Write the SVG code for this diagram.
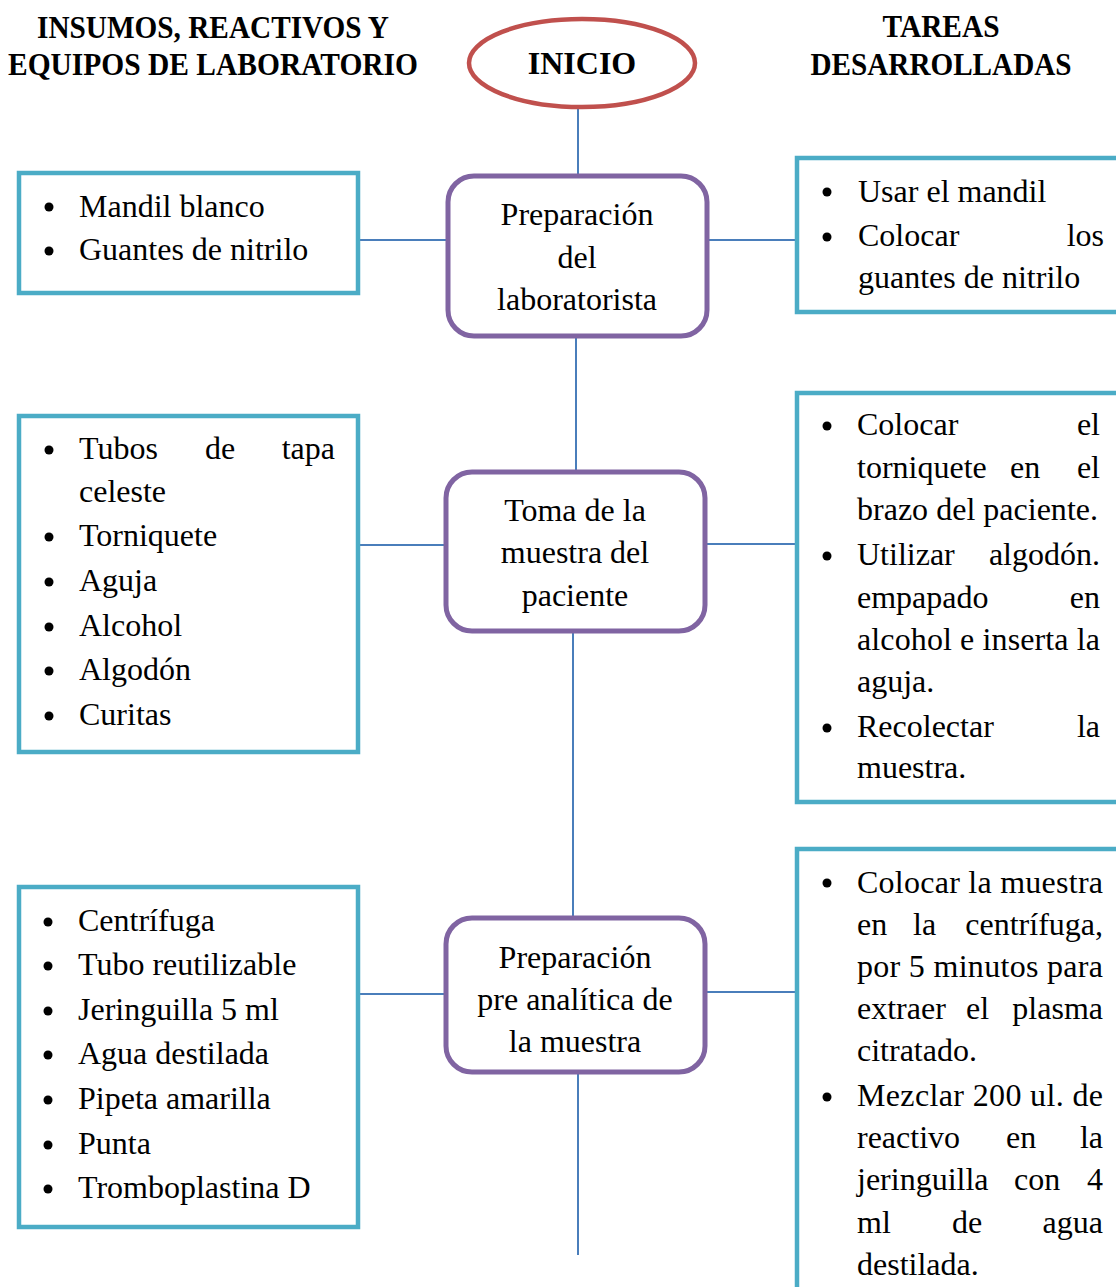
<svg xmlns="http://www.w3.org/2000/svg" width="1116" height="1287" viewBox="0 0 1116 1287">
  <style>
    .hdr { font-family: "Liberation Serif", "Times New Roman", serif; font-weight: bold; font-size: 32px; fill: #000; }
    .txt { font-family: "Liberation Serif", "Times New Roman", serif; font-size: 32px; fill: #000; }
    .mid { text-anchor: middle; }
    .end { text-anchor: end; }
    .step { fill: #fff; stroke: #8064a2; stroke-width: 5; }
    .list { fill: #fff; stroke: #4bacc6; stroke-width: 4.5; }
    .link { stroke: #4a7ebb; stroke-width: 2; fill: none; }
    .dot { fill: #000; }
  </style>

  <!-- column headings -->
  <g id="heading-left">
    <text class="hdr mid" x="213" y="38" textLength="352" lengthAdjust="spacingAndGlyphs">INSUMOS, REACTIVOS Y</text>
    <text class="hdr mid" x="213" y="75" textLength="410" lengthAdjust="spacingAndGlyphs">EQUIPOS DE LABORATORIO</text>
  </g>
  <g id="heading-right">
    <text class="hdr mid" x="941" y="37" textLength="117" lengthAdjust="spacingAndGlyphs">TAREAS</text>
    <text class="hdr mid" x="941" y="75" textLength="261" lengthAdjust="spacingAndGlyphs">DESARROLLADAS</text>
  </g>

  <!-- connectors -->
  <g id="connectors">
    <line class="link" x1="578" y1="108" x2="578" y2="176"/>
    <line class="link" x1="576" y1="336" x2="576" y2="472"/>
    <line class="link" x1="573" y1="632" x2="573" y2="918"/>
    <line class="link" x1="578" y1="1072" x2="578" y2="1255"/>
    <line class="link" x1="358" y1="240" x2="448" y2="240"/>
    <line class="link" x1="707" y1="240" x2="797" y2="240"/>
    <line class="link" x1="358" y1="545" x2="446" y2="545"/>
    <line class="link" x1="705" y1="544" x2="797" y2="544"/>
    <line class="link" x1="358" y1="994" x2="446" y2="994"/>
    <line class="link" x1="699" y1="992" x2="797" y2="992"/>
  </g>

  <!-- start -->
  <g id="inicio">
    <ellipse cx="582" cy="63" rx="113" ry="44" fill="#fff" stroke="#c0504d" stroke-width="4.5"/>
    <text class="hdr mid" x="582" y="74">INICIO</text>
  </g>

  <!-- step 1 -->
  <g id="step-preparacion-laboratorista">
    <rect class="step" x="448" y="176" width="259" height="160" rx="26"/>
    <text class="txt mid" x="577" y="225">Preparación</text>
    <text class="txt mid" x="577" y="268">del</text>
    <text class="txt mid" x="577" y="310">laboratorista</text>
  </g>
  <g id="insumos-1">
    <rect class="list" x="19" y="173" width="339" height="120"/>
    <circle class="dot" cx="49" cy="207" r="4.5"/>
    <text class="txt" x="79" y="217">Mandil blanco</text>
    <circle class="dot" cx="49" cy="251" r="4.5"/>
    <text class="txt" x="79" y="260">Guantes de nitrilo</text>
  </g>
  <g id="tareas-1">
    <rect class="list" x="797" y="158" width="330" height="154"/>
    <circle class="dot" cx="827" cy="192" r="4.5"/>
    <text class="txt" x="858" y="202">Usar el mandil</text>
    <circle class="dot" cx="827" cy="237" r="4.5"/>
    <text class="txt" x="858" y="246">Colocar</text>
    <text class="txt end" x="1104" y="246">los</text>
    <text class="txt" x="858" y="288">guantes de nitrilo</text>
  </g>

  <!-- step 2 -->
  <g id="step-toma-muestra">
    <rect class="step" x="446" y="472" width="259" height="159" rx="26"/>
    <text class="txt mid" x="575" y="521">Toma de la</text>
    <text class="txt mid" x="575" y="563">muestra del</text>
    <text class="txt mid" x="575" y="606">paciente</text>
  </g>
  <g id="insumos-2">
    <rect class="list" x="19" y="416" width="339" height="336"/>
    <circle class="dot" cx="49" cy="450" r="4.5"/>
    <text class="txt" x="79" y="459">Tubos</text>
    <text class="txt" x="205" y="459">de</text>
    <text class="txt end" x="335" y="459">tapa</text>
    <text class="txt" x="79" y="502">celeste</text>
    <circle class="dot" cx="49" cy="537" r="4.5"/>
    <text class="txt" x="79" y="546">Torniquete</text>
    <circle class="dot" cx="49" cy="582" r="4.5"/>
    <text class="txt" x="79" y="591">Aguja</text>
    <circle class="dot" cx="49" cy="627" r="4.5"/>
    <text class="txt" x="79" y="636">Alcohol</text>
    <circle class="dot" cx="49" cy="671" r="4.5"/>
    <text class="txt" x="79" y="680">Algodón</text>
    <circle class="dot" cx="49" cy="716" r="4.5"/>
    <text class="txt" x="79" y="725">Curitas</text>
  </g>
  <g id="tareas-2">
    <rect class="list" x="797" y="393" width="330" height="409"/>
    <circle class="dot" cx="827" cy="426" r="4.5"/>
    <text class="txt" x="857" y="435">Colocar</text>
    <text class="txt end" x="1100" y="435">el</text>
    <text class="txt" x="857" y="478">torniquete</text>
    <text class="txt" x="1010" y="478">en</text>
    <text class="txt end" x="1100" y="478">el</text>
    <text class="txt" x="857" y="520" textLength="241" lengthAdjust="spacing">brazo del paciente.</text>
    <circle class="dot" cx="827" cy="556" r="4.5"/>
    <text class="txt" x="857" y="565">Utilizar</text>
    <text class="txt end" x="1100" y="565">algodón.</text>
    <text class="txt" x="857" y="608">empapado</text>
    <text class="txt end" x="1100" y="608">en</text>
    <text class="txt" x="857" y="650" textLength="243" lengthAdjust="spacing">alcohol e inserta la</text>
    <text class="txt" x="857" y="692">aguja.</text>
    <circle class="dot" cx="827" cy="728" r="4.5"/>
    <text class="txt" x="857" y="737">Recolectar</text>
    <text class="txt end" x="1100" y="737">la</text>
    <text class="txt" x="857" y="778">muestra.</text>
  </g>

  <!-- step 3 -->
  <g id="step-preanalitica">
    <rect class="step" x="446" y="918" width="259" height="154" rx="26"/>
    <text class="txt mid" x="575" y="968">Preparación</text>
    <text class="txt mid" x="575" y="1010">pre analítica de</text>
    <text class="txt mid" x="575" y="1052">la muestra</text>
  </g>
  <g id="insumos-3">
    <rect class="list" x="19" y="887" width="339" height="340"/>
    <circle class="dot" cx="48" cy="922" r="4.5"/>
    <text class="txt" x="78" y="931">Centrífuga</text>
    <circle class="dot" cx="48" cy="966" r="4.5"/>
    <text class="txt" x="78" y="975">Tubo reutilizable</text>
    <circle class="dot" cx="48" cy="1011" r="4.5"/>
    <text class="txt" x="78" y="1020">Jeringuilla 5 ml</text>
    <circle class="dot" cx="48" cy="1055" r="4.5"/>
    <text class="txt" x="78" y="1064">Agua destilada</text>
    <circle class="dot" cx="48" cy="1100" r="4.5"/>
    <text class="txt" x="78" y="1109">Pipeta amarilla</text>
    <circle class="dot" cx="48" cy="1145" r="4.5"/>
    <text class="txt" x="78" y="1154">Punta</text>
    <circle class="dot" cx="48" cy="1189" r="4.5"/>
    <text class="txt" x="78" y="1198">Tromboplastina D</text>
  </g>
  <g id="tareas-3">
    <rect class="list" x="797" y="849" width="330" height="460"/>
    <circle class="dot" cx="827" cy="883" r="4.5"/>
    <text class="txt" x="857" y="893" textLength="246" lengthAdjust="spacing">Colocar la muestra</text>
    <text class="txt" x="857" y="935">en</text>
    <text class="txt" x="913" y="935">la</text>
    <text class="txt end" x="1103" y="935">centrífuga,</text>
    <text class="txt" x="857" y="977" textLength="246" lengthAdjust="spacing">por 5 minutos para</text>
    <text class="txt" x="857" y="1019">extraer</text>
    <text class="txt" x="966" y="1019">el</text>
    <text class="txt end" x="1103" y="1019">plasma</text>
    <text class="txt" x="857" y="1061">citratado.</text>
    <circle class="dot" cx="827" cy="1097" r="4.5"/>
    <text class="txt" x="857" y="1106" textLength="246" lengthAdjust="spacing">Mezclar 200 ul. de</text>
    <text class="txt" x="857" y="1148">reactivo</text>
    <text class="txt" x="1006" y="1148">en</text>
    <text class="txt end" x="1103" y="1148">la</text>
    <text class="txt" x="857" y="1190">jeringuilla</text>
    <text class="txt" x="1014" y="1190">con</text>
    <text class="txt end" x="1103" y="1190">4</text>
    <text class="txt" x="857" y="1233">ml</text>
    <text class="txt" x="952" y="1233">de</text>
    <text class="txt end" x="1103" y="1233">agua</text>
    <text class="txt" x="857" y="1275">destilada.</text>
  </g>
</svg>
